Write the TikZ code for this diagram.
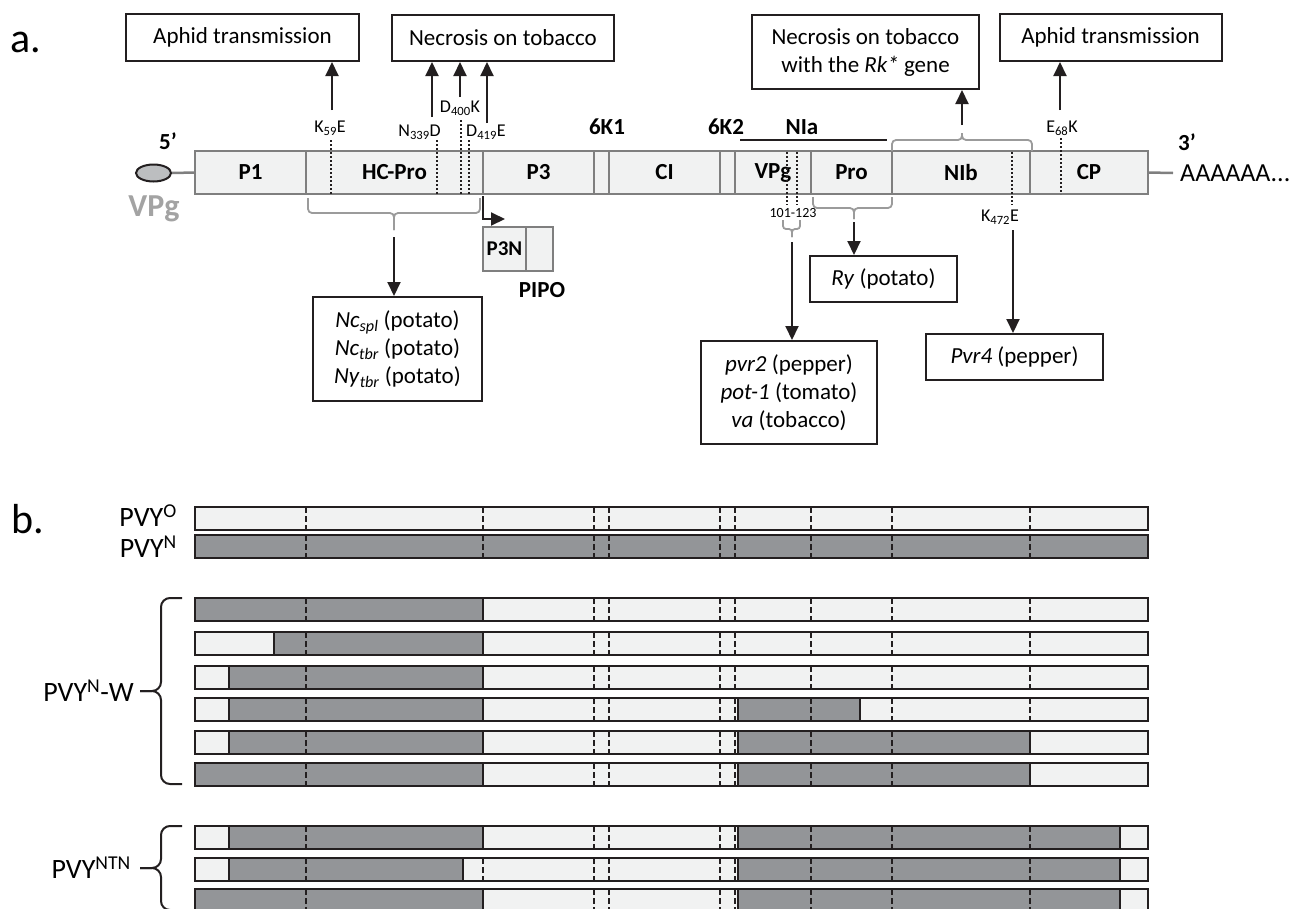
\documentclass[tikz,border=0pt]{standalone}
\usepackage{fontspec}
\setmainfont{Carlito}
\usepackage{tikz}
\usetikzlibrary{arrows.meta,shapes.geometric}
\definecolor{barfill}{HTML}{F1F2F2}
\definecolor{barline}{HTML}{7F7F7F}
\definecolor{grayfill}{HTML}{939598}
\definecolor{inkc}{HTML}{231F20}
\definecolor{capfill}{HTML}{BCBEC0}
\definecolor{bracec}{HTML}{9B9B9B}
\definecolor{vpgc}{HTML}{A3A3A3}
\newcommand{\txtfont}{\fontsize{23}{28}\selectfont}
\newcommand{\segfont}{\fontsize{23}{28}\selectfont\bfseries}
\newcommand{\smallseg}{\fontsize{21}{25}\selectfont\bfseries}
\newcommand{\mutfont}{\fontsize{18}{22}\selectfont}
\newcommand{\tinyfont}{\fontsize{14}{17}\selectfont}
\newcommand{\panelfont}{\fontsize{42}{50}\selectfont}
\newcommand{\strainfont}{\fontsize{28}{34}\selectfont}
\newcommand{\vpgfont}{\fontsize{32}{38}\selectfont\bfseries}
\newcommand{\polyfont}{\fontsize{26}{31}\selectfont}
\newcommand{\strainbar}[2]{%
  \fill[barfill] (195,#1) rectangle (1148,#1+23);
  \foreach \xa/\xb in {#2} {\filldraw[grayseg] (\xa,#1) rectangle (\xb,#1+23);}
  \foreach \xc in {306,483,594,609,720,735,811,892,1030} {\draw[cutline] (\xc,#1) -- (\xc,#1+23);}
  \draw[strain] (195,#1) rectangle (1148,#1+23);}

\begin{document}
\begin{tikzpicture}[x=1pt,y=-1pt,
    >={Triangle[length=14pt,width=13pt]},
    box/.style={draw=inkc,line width=2pt,fill=white,inner sep=0pt,align=center,font=\txtfont},
    seg/.style={draw=barline,fill=barfill,line width=2.5pt,inner sep=0pt,outer sep=0pt,minimum height=43pt,anchor=west,font=\segfont},
    taglab/.style={inner sep=0pt,font=\segfont},
    mlab/.style={inner sep=0pt,font=\mutfont},
    arr/.style={->,line width=2pt,draw=inkc},
    mut/.style={line width=1.6pt,draw=inkc,dash pattern=on 2pt off 2pt},
    brk/.style={line width=1.8pt,draw=bracec,rounded corners=4pt},
    grayseg/.style={fill=grayfill,draw=inkc,line width=2pt},
    cutline/.style={draw=inkc,line width=1.4pt,dash pattern=on 6pt off 3pt},
    strain/.style={draw=inkc,line width=2.5pt},
    strainlab/.style={inner sep=0pt,anchor=east,font=\strainfont},
    cbrace/.style={draw=inkc,line width=2pt,rounded corners=9pt}]
\useasboundingbox (0,0) rectangle (1299,908);
\clip (0,0) rectangle (1299,908);

\node (la)[anchor=base west,inner sep=0pt,font=\panelfont] at (10,52) {a.};

\node (aphL)[box,minimum width=233pt,minimum height=47pt] at (242.5,37.5) {Aphid transmission};
\node (necL)[box,minimum width=222pt,minimum height=46pt] at (503,38) {Necrosis on tobacco};
\node (rk)[box,minimum width=227pt,minimum height=74pt] at (865.5,52) {Necrosis on tobacco\\with the \textit{Rk*} gene};
\node (aphR)[box,minimum width=222pt,minimum height=47pt] at (1110.5,37.5) {Aphid transmission};

\begin{scope}[every node/.style={seg}]
    \node (P1)[minimum width=111pt] at (195,172.5) {P1};
    \node (HC)[minimum width=177pt] at (306,172.5) {HC-Pro};
    \node (P3)[minimum width=111pt] at (483,172.5) {P3};
    \node (K1)[minimum width=15pt] at (594,172.5) {};
    \node (CI)[minimum width=111pt] at (609,172.5) {CI};
    \node (K2)[minimum width=15pt] at (720,172.5) {};
    \node (VPg)[minimum width=76pt] at (735,172.5) {VPg};
    \node (Pro)[minimum width=81pt] at (811,172.5) {Pro};
    \node (NIb)[minimum width=138pt] at (892,172.5) {NIb};
    \node (CP)[minimum width=118pt] at (1030,172.5) {CP};
\end{scope}

\node (cap)[ellipse,draw=inkc,line width=2pt,fill=capfill,minimum width=35pt,minimum height=17pt,inner sep=0pt] at (153.5,173) {};
\draw[barline,line width=2.5pt] (cap.east) -- (P1.west);
\node (vpglab)[font=\vpgfont,text=vpgc,inner sep=0pt] at (154,209) {VPg};
\node (five)[taglab] at (168,141) {5’};
\node (three)[taglab] at (1187,142) {3’};
\node (polyA)[anchor=west,inner sep=0pt,font=\polyfont] at (1180,173) {AAAAAA...};
\draw[barline,line width=2.5pt] (CP.east) -- ([xshift=-7pt]polyA.west);

\node (k61)[taglab] at (607,127) {6K1};
\node (k62)[taglab] at (726,127) {6K2};
\node (nia)[taglab] at (802,127) {NIa};
\draw[inkc,line width=2pt] (740,140) -- (887,140);

\node (k59)[mlab] at (330,128) {K\textsubscript{59}E};
\node (n339)[mlab,anchor=east] at (441,132) {N\textsubscript{339}D};
\node (d400)[mlab] at (460,108) {D\textsubscript{400}K};
\node (d419)[mlab,anchor=west] at (466,132) {D\textsubscript{419}E};
\node (e68)[mlab] at (1062,128) {E\textsubscript{68}K};
\node (k472)[mlab] at (1000,217) {K\textsubscript{472}E};
\node (r101)[inner sep=0pt,font=\tinyfont] at (793,213) {101-123};

\coordinate (a59) at (332,110);
\coordinate (a339) at (432,117);
\coordinate (a400) at (460,97);
\coordinate (a419) at (487,123);
\coordinate (a68) at (1060,110);
\coordinate (aRk) at (962,125);
\draw[arr] (a59) -- (a59 |- aphL.south);
\draw[arr] (a339) -- (a339 |- necL.south);
\draw[arr] (a400) -- (a400 |- necL.south);
\draw[arr] (a419) -- (a419 |- necL.south);
\draw[arr] (a68) -- (a68 |- aphR.south);
\draw[arr] (aRk) -- (aRk |- rk.south);

\coordinate (s59) at (331,140);
\coordinate (s339) at (437,140);
\coordinate (s400) at (461,120);
\coordinate (s419) at (469,140);
\coordinate (s68) at (1061,138);
\draw[mut] (s59) -- (s59 |- HC.south);
\draw[mut] (s339) -- (s339 |- HC.south);
\draw[mut] (s400) -- (s400 |- HC.south);
\draw[mut] (s419) -- (s419 |- HC.south);
\draw[mut] (s68) -- (s68 |- CP.south);
\draw[mut] (787,152) -- (787,205);
\draw[mut] (797,152) -- (797,205);
\draw[mut] (1012,152) -- (1012,205);

\draw[brk] (308,198) |- (394,213) -- (394,230);
\draw[brk] (480,198) |- (394,213) -- (394,230);
\draw[brk] (892,151) |- (962,140) -- (962,133);
\draw[brk] (1032,151) |- (962,140) -- (962,133);
\draw[brk] (813,197) |- (854,208) -- (854,219);
\draw[brk] (892,197) |- (854,208) -- (854,219);
\draw[brk,rounded corners=3pt] (783,220) |- (792,229) -- (792,237);
\draw[brk,rounded corners=3pt] (800,220) |- (792,229) -- (792,237);

\node (p3n)[seg,anchor=north west,minimum width=43pt,minimum height=44pt,font=\smallseg] at (483,227) {P3N};
\node (pipo)[seg,anchor=north west,minimum width=27pt,minimum height=44pt] at (526,227) {};
\node (pipolab)[taglab] at (542,290) {PIPO};
\coordinate (p3s) at (483,196);
\coordinate (p3e) at (505,219);
\draw[arr] (p3s) |- (p3e);

\node (nc)[box,minimum width=169pt,minimum height=104pt] at (397.5,349) {\textit{Nc}\textsubscript{\textit{spl}} (potato)\\\textit{Nc}\textsubscript{\textit{tbr}} (potato)\\\textit{Ny}\textsubscript{\textit{tbr}} (potato)};
\node (pvr)[box,minimum width=176pt,minimum height=103pt] at (789,392.5) {\textit{pvr2} (pepper)\\\textit{pot-1} (tomato)\\\textit{va} (tobacco)};
\node (ry)[box,minimum width=147pt,minimum height=46pt] at (883.5,279) {\textit{Ry} (potato)};
\node (pvr4)[box,minimum width=177pt,minimum height=46pt] at (1014.5,357) {\textit{Pvr4} (pepper)};

\coordinate (bHC) at (394,237);
\coordinate (bVPg) at (792,242);
\coordinate (bPro) at (854,222);
\coordinate (b472) at (1013,230);
\draw[arr] (bHC) -- (bHC |- nc.north);
\draw[arr] (bVPg) -- (bVPg |- pvr.north);
\draw[arr] (bPro) -- (bPro |- ry.north);
\draw[arr] (b472) -- (b472 |- pvr4.north);

\node (lb)[anchor=base west,inner sep=0pt,font=\panelfont] at (11,533) {b.};

\strainbar{507}{195/195}
\strainbar{535}{195/1148}
\strainbar{598}{195/483}
\strainbar{632}{274/483}
\strainbar{666}{229/483}
\strainbar{698}{229/483,738/860}
\strainbar{731}{229/483,738/1030}
\strainbar{763}{195/483,738/1030}
\strainbar{826}{229/483,738/1120}
\strainbar{858}{229/463,738/1120}
\strainbar{889}{195/483,738/1120}

\node (pvyo)[strainlab] at (177,516) {PVY\textsuperscript{O}};
\node (pvyn)[strainlab] at (177,547) {PVY\textsuperscript{N}};
\node (pvynw)[strainlab] at (134,691) {PVY\textsuperscript{N}-W};
\node (pvyntn)[strainlab] at (131,868) {PVY\textsuperscript{NTN}};

\draw[cbrace] (182,598) -| (161,691) -- (140,691);
\draw[cbrace] (182,784) -| (161,691) -- (140,691);
\draw[cbrace] (182,826) -| (161,868) -- (140,868);
\draw[cbrace] (182,910) -| (161,868) -- (140,868);
\end{tikzpicture}
\end{document}
